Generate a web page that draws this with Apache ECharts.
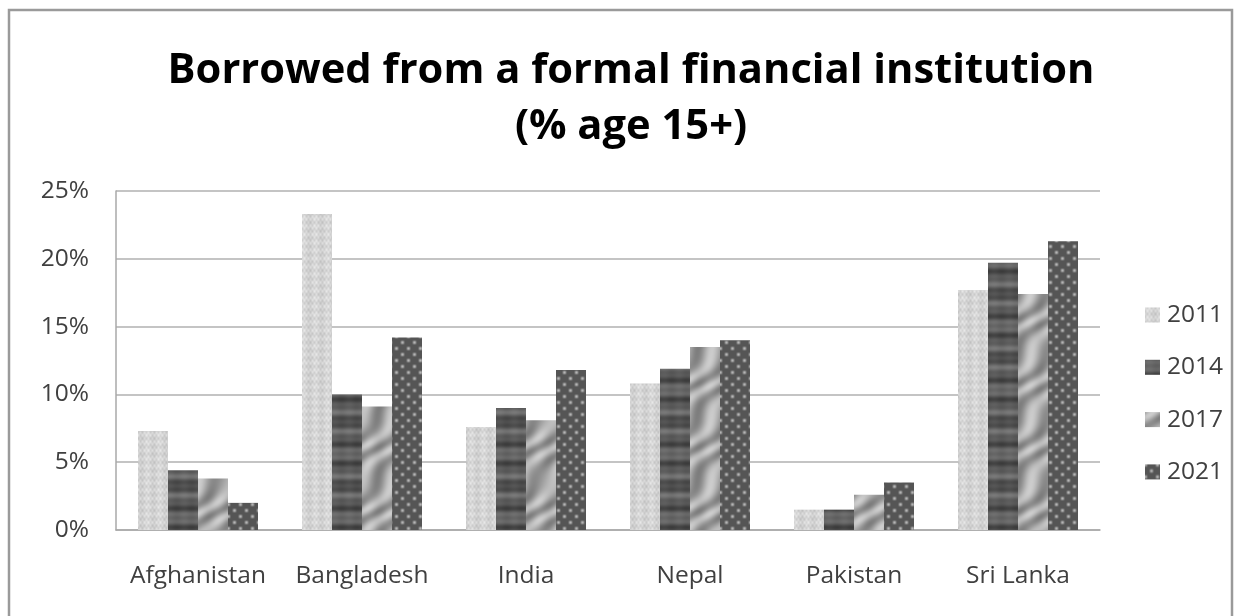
<!DOCTYPE html>
<html>
<head>
<meta charset="utf-8">
<script src="https://cdn.jsdelivr.net/npm/echarts@6/dist/echarts.min.js"></script>
<style>
html,body{margin:0;padding:0;background:#fff;}
#chart{width:1242px;height:616px;}
</style>
</head>
<body>
<div id="chart"></div>
<script>
// ---- data ----
const titleLines = ['Borrowed from a formal financial institution', '(% age 15+)'];
const categories = ['Afghanistan', 'Bangladesh', 'India', 'Nepal', 'Pakistan', 'Sri Lanka'];
const years = ['2011', '2014', '2017', '2021'];
const v2011 = [7.3, 23.3, 7.6, 10.8, 1.5, 17.7];
const v2014 = [4.4, 10.0, 9.0, 11.9, 1.5, 19.7];
const v2017 = [3.8, 9.1, 8.1, 13.5, 2.6, 17.4];
const v2021 = [2.0, 14.2, 11.8, 14.0, 3.5, 21.3];
const yTicks = [0, 5, 10, 15, 20, 25];

// ---- texture helpers (style only) ----
function makePattern(w, h, fn) {
  const c = document.createElement('canvas');
  c.width = w; c.height = h;
  const ctx = c.getContext('2d');
  const img = ctx.createImageData(w, h);
  for (let y = 0; y < h; y++) {
    for (let x = 0; x < w; x++) {
      let v = Math.max(0, Math.min(255, Math.round(fn(x, y))));
      const i = (y * w + x) * 4;
      img.data[i] = v; img.data[i + 1] = v; img.data[i + 2] = v; img.data[i + 3] = 255;
    }
  }
  ctx.putImageData(img, 0, 0);
  return c;
}
const TAU = Math.PI * 2;
const pat2011 = makePattern(24, 24, (x, y) =>
  212 + 10 * Math.cos(TAU * x / 24 * 6) * Math.cos(TAU * y / 24 * 4) + 6 * Math.sin(TAU * x / 24 * 2) + 5 * Math.sin(TAU * y / 24 * 3));
const pat2014 = makePattern(30, 64, (x, y) =>
  90 + 18 * Math.sin(TAU * y / 64 * 3) + 10 * Math.sin(TAU * y / 64 * 7 + 1) + 4 * Math.sin(TAU * x / 30 * 2));
const pat2017 = makePattern(64, 64, (x, y) =>
  165 + 32 * Math.sin(TAU * (x + y) / 64 * 2 + 1.6 * Math.sin(TAU * y / 64)) + 8 * Math.sin(TAU * x / 64 * 3));
const pat2021 = makePattern(12, 12, (x, y) => {
  const s = Math.cos(TAU * x / 12) * Math.cos(TAU * y / 12);
  return 85 + 95 * Math.max(0, s) * Math.max(0, s);
});
const patterns = [pat2011, pat2014, pat2017, pat2021];
const seriesValues = [v2011, v2014, v2017, v2021];

// ---- font fitting (style) ----
const mctx = document.createElement('canvas').getContext('2d');
function fitSize(text, weight, family, target) {
  mctx.font = weight + ' 100px ' + family;
  const w = mctx.measureText(text).width;
  return 100 * target / w;
}
const FAM = '"Open Sans", sans-serif';
const titleSize = fitSize(titleLines[0], 'bold', FAM, 927);
const labelSize = fitSize('Afghanistan', 'normal', FAM, 136);

const chart = echarts.init(document.getElementById('chart'));
chart.setOption({
  backgroundColor: '#ffffff',
  animation: false,
  title: {
    text: titleLines.join('\n'),
    left: 631,
    top: 43,
    padding: 0,
    textAlign: 'center',
    textStyle: {
      fontFamily: FAM,
      fontWeight: 'bold',
      fontSize: titleSize,
      lineHeight: 56,
      color: '#000000'
    }
  },
  graphic: [{
    type: 'rect',
    shape: { x: 9, y: 10, width: 1223, height: 630 },
    style: { fill: 'none', stroke: '#9a9a9a', lineWidth: 2.5 },
    silent: true,
    z: 0
  }],
  legend: {
    orient: 'vertical',
    left: 1145,
    top: 302.5,
    itemWidth: 15,
    itemHeight: 15,
    itemGap: 27.3,
    padding: 0,
    icon: 'rect',
    textStyle: {
      fontFamily: FAM,
      fontSize: labelSize,
      lineHeight: 24,
      color: '#404040',
      padding: [0, 0, 0, 2]
    },
    data: years
  },
  grid: {
    left: 116,
    right: 142,
    top: 191,
    bottom: 86,
    containLabel: false
  },
  xAxis: {
    type: 'category',
    data: categories,
    axisLine: { show: true, lineStyle: { color: '#a8a8a8', width: 1.5 } },
    axisTick: { show: false },
    axisLabel: {
      interval: 0,
      hideOverlap: false,
      margin: 34,
      fontFamily: FAM,
      fontSize: labelSize,
      color: '#404040'
    }
  },
  yAxis: {
    type: 'value',
    min: yTicks[0],
    max: yTicks[yTicks.length - 1],
    interval: yTicks[1] - yTicks[0],
    axisLine: { show: true, lineStyle: { color: '#a8a8a8', width: 1.5 } },
    axisTick: { show: false },
    splitLine: { show: true, lineStyle: { color: '#b0b0b0', width: 1.5 } },
    axisLabel: {
      margin: 27,
      formatter: '{value}%',
      fontFamily: FAM,
      fontSize: labelSize,
      color: '#404040'
    }
  },
  series: years.map((yr, i) => ({
    name: yr,
    type: 'bar',
    data: seriesValues[i],
    barWidth: 30,
    barGap: '0%',
    itemStyle: { color: { image: patterns[i], repeat: 'repeat' } }
  }))
});
</script>
</body>
</html>
